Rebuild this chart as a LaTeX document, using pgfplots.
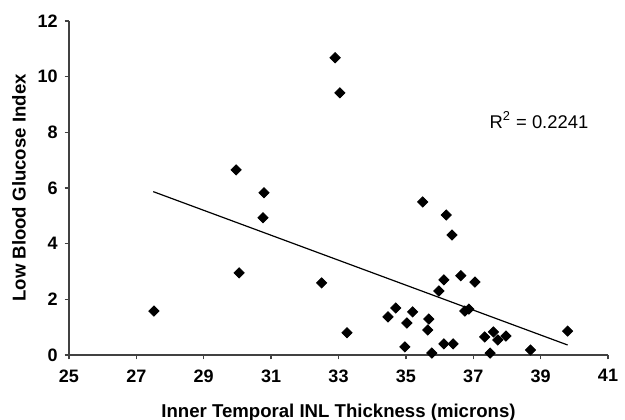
\documentclass[border=0pt]{standalone}
\usepackage{pgfplots}
\pgfplotsset{compat=1.18}
\usepackage{fontspec}
\setmainfont{Liberation Sans}
\definecolor{axisgray}{RGB}{65,65,65}

\begin{document}
\begin{tikzpicture}
\begin{axis}[
  scale only axis,
  width=269.5pt, height=167pt,
  xmin=25, xmax=41, ymin=0, ymax=12,
  xtick={25,27,...,41}, ytick={0,2,...,12},
  axis lines=left,
  axis line style={axisgray, line width=0.7pt, -},
  tick style={axisgray, line width=0.7pt},
  tick align=outside, major tick length=2.2pt,
  /pgf/number format/assume math mode=true,
  ticklabel style={font=\fontsize{9}{10}\selectfont\bfseries},
  xticklabel style={yshift=-1.5pt},
  xlabel={Inner Temporal INL Thickness (microns)},
  ylabel={Low Blood Glucose Index},
  label style={font=\fontsize{9.3}{11}\selectfont\bfseries},
  xlabel style={yshift=-4pt},
  ylabel style={yshift=-1pt},
  clip=false,
]
\addplot[only marks, mark=square*, mark size=1.8pt, mark options={rotate=45, fill=black, draw=black}] coordinates {
 (27.52,1.58) (29.96,6.65) (30.79,5.83) (30.76,4.93) (30.05,2.95)
 (32.50,2.59) (32.90,10.68) (33.04,9.42) (33.25,0.80) (35.50,5.50)
 (36.20,5.03) (36.37,4.31) (36.63,2.85) (37.05,2.62) (36.13,2.70)
 (35.98,2.30) (36.75,1.58) (36.87,1.65) (34.70,1.69) (34.47,1.37)
 (35.20,1.55) (35.68,1.29) (35.03,1.15) (35.65,0.90) (34.97,0.29)
 (35.77,0.07) (36.13,0.40) (36.40,0.40) (37.34,0.65) (37.60,0.83)
 (37.73,0.54) (37.97,0.68) (37.50,0.07) (38.70,0.18) (39.80,0.86)
};
% linear trend line
\addplot[black, line width=0.6pt] coordinates {(27.5,5.87) (39.8,0.36)};
\node[font=\fontsize{9.2}{11}\selectfont] at (axis cs:38.95,8.45) {R\textsuperscript{2} = 0.2241};
\end{axis}
\pgfresetboundingbox
\useasboundingbox (-34.5pt,-32pt) rectangle (278pt,177.5pt);
\end{tikzpicture}
\end{document}
